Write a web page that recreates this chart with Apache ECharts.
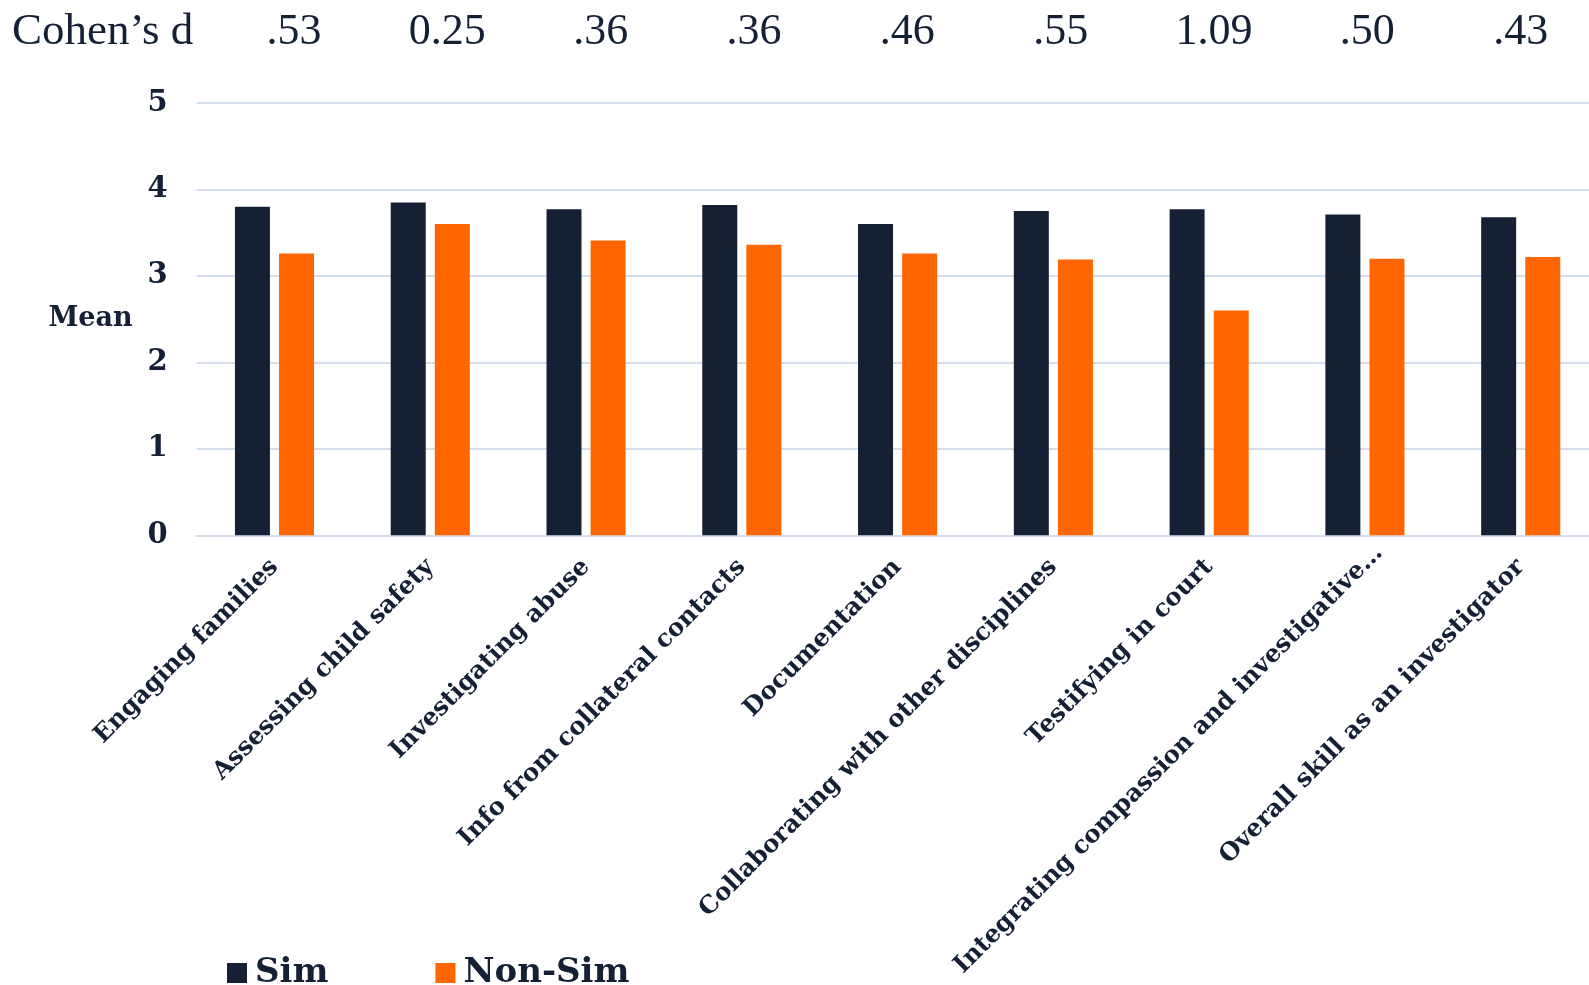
<!DOCTYPE html>
<html>
<head>
<meta charset="utf-8">
<script src="https://cdn.jsdelivr.net/npm/echarts@6/dist/echarts.min.js"></script>
<style>
  html, body { margin: 0; padding: 0; background: #ffffff; }
  #chart { width: 1589px; height: 985px; }
</style>
</head>
<body>
<div id="chart"></div>
<script>
// Skill areas rated by investigators
const categories = [
  'Engaging families',
  'Assessing child safety',
  'Investigating abuse',
  'Info from collateral contacts',
  'Documentation',
  'Collaborating with other disciplines',
  'Testifying in court',
  'Integrating compassion and investigative…',
  'Overall skill as an investigator'
];

// Mean ratings per group
const simValues    = [3.80, 3.85, 3.77, 3.82, 3.60, 3.75, 3.77, 3.71, 3.68];
const nonSimValues = [3.26, 3.60, 3.41, 3.36, 3.26, 3.19, 2.60, 3.20, 3.22];

// Effect size per skill area, as printed above each pair
const cohensD = ['.53', '0.25', '.36', '.36', '.46', '.55', '1.09', '.50', '.43'];

// Value axis range
const yMin = 0;
const yMax = 5;
const yStep = 1;

const NAVY = '#152035';
const ORANGE = '#ff6600';
const GRID_LINE = '#d5deed';
const BOLD_SERIF = 'DejaVu Serif';
const PLAIN_SERIF = 'Liberation Serif';

// The truncated label sits a little further right than the others
const categoryItems = categories.map(function (name) {
  if (name.endsWith('…')) {
    return { value: name, textStyle: { padding: [22, -20, 0, 0] } };
  }
  return name;
});

const chart = echarts.init(document.getElementById('chart'), null, { renderer: 'canvas' });

chart.setOption({
  backgroundColor: '#ffffff',
  animation: false,
  textStyle: { fontFamily: BOLD_SERIF, color: NAVY },
  title: {
    text: 'Cohen\u2019s d',
    left: 7,
    top: 5,
    textStyle: { fontFamily: PLAIN_SERIF, fontWeight: 'normal', fontSize: 45, color: NAVY }
  },
  legend: {
    data: ['Sim', 'Non-Sim'],
    left: 222,
    top: 951,
    icon: 'rect',
    itemWidth: 20,
    itemHeight: 20,
    itemGap: 107,
    textStyle: { fontFamily: BOLD_SERIF, fontWeight: 'bold', fontSize: 34, color: NAVY, padding: [0, 0, 0, 3] }
  },
  grid: [
    { left: 196.6, top: 103, width: 1402, height: 432.3, containLabel: false, outerBoundsMode: 'none' },
    { left: 217.3, top: 62, width: 1380, height: 1, containLabel: false, outerBoundsMode: 'none' }
  ],
  xAxis: [
    {
      type: 'category',
      gridIndex: 0,
      data: categoryItems,
      axisLine: { show: true, lineStyle: { color: GRID_LINE, width: 2 } },
      axisTick: { show: false },
      axisLabel: {
        interval: 0,
        rotate: 45,
        margin: 28,
        fontFamily: BOLD_SERIF,
        fontWeight: 'bold',
        fontSize: 24.5,
        color: NAVY
      }
    },
    {
      type: 'category',
      gridIndex: 1,
      position: 'top',
      data: cohensD,
      axisLine: { show: false },
      axisTick: { show: false },
      axisLabel: {
        interval: 0,
        margin: 8,
        fontFamily: PLAIN_SERIF,
        fontWeight: 'normal',
        fontSize: 44,
        color: NAVY
      }
    }
  ],
  yAxis: [
    {
      type: 'value',
      gridIndex: 0,
      min: yMin,
      max: yMax,
      interval: yStep,
      name: 'Mean',
      nameLocation: 'middle',
      nameRotate: 0,
      nameGap: 64,
      nameTextStyle: { fontFamily: BOLD_SERIF, fontWeight: 'bold', fontSize: 27, color: NAVY },
      axisLine: { show: false },
      axisTick: { show: false },
      axisLabel: { margin: 29, fontFamily: BOLD_SERIF, fontWeight: 'bold', fontSize: 29, color: NAVY },
      splitLine: { show: true, lineStyle: { color: GRID_LINE, width: 2 } }
    },
    {
      type: 'value',
      gridIndex: 1,
      show: false
    }
  ],
  series: [
    {
      name: 'Sim',
      type: 'bar',
      xAxisIndex: 0,
      yAxisIndex: 0,
      data: simValues,
      barWidth: 35,
      barGap: '26%',
      itemStyle: { color: NAVY }
    },
    {
      name: 'Non-Sim',
      type: 'bar',
      xAxisIndex: 0,
      yAxisIndex: 0,
      data: nonSimValues,
      barWidth: 35,
      barGap: '26%',
      itemStyle: { color: ORANGE }
    }
  ]
});
</script>
</body>
</html>
